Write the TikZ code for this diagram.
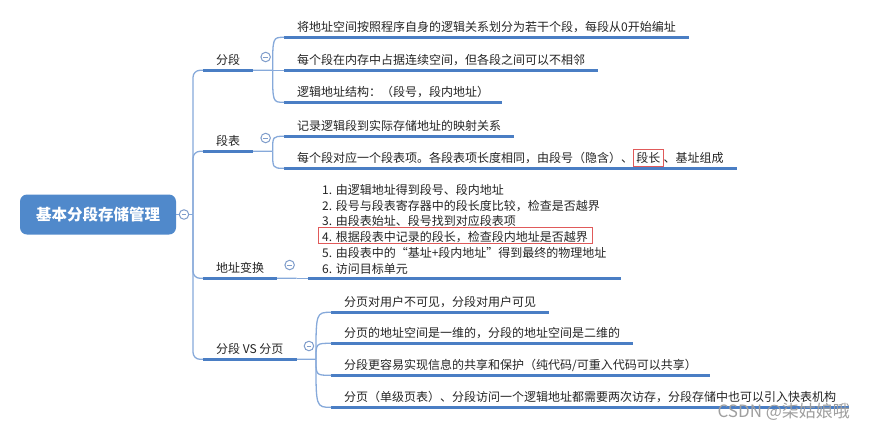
\documentclass[tikz,border=0pt]{standalone}
\usepackage{fontspec}
\setmainfont{Noto Sans CJK SC}
\usepackage{tikz}
\usetikzlibrary{positioning,fit}

\definecolor{mapblue}{HTML}{4A7EC4}
\definecolor{twigblue}{HTML}{86A9DA}
\definecolor{rootblue}{HTML}{5089CB}
\definecolor{toggleblue}{HTML}{7F9DCB}
\definecolor{boxred}{HTML}{E05A5A}
\definecolor{inkgray}{HTML}{242424}

\newcommand\mapfont{\fontsize{12pt}{14pt}\selectfont}
\setlength{\fboxsep}{2.5pt}
\setlength{\fboxrule}{0.7pt}

\tikzset{
  root/.style={rectangle, rounded corners=7pt, fill=rootblue, text=white,
    font=\fontsize{15.5pt}{18pt}\selectfont\bfseries,
    minimum width=156pt, minimum height=40pt},
  toggle/.style={circle, draw=toggleblue, line width=1pt, fill=white,
    minimum size=9.5pt, inner sep=0pt,
    path picture={\draw[toggleblue, line width=0.9pt]
      ([xshift=-2.2pt]path picture bounding box.center) --
      ([xshift=2.2pt]path picture bounding box.center);}},
  branch/.style={anchor=west, inner xsep=13pt, inner ysep=4.4pt,
    text height=13.9pt, text depth=1.5pt, font=\mapfont, text=inkgray},
  leaf/.style={branch},
  listline/.style={anchor=west, inner sep=0pt, text height=13.9pt,
    text depth=1.5pt, font=\mapfont, text=inkgray},
  bar/.style={draw=mapblue, line width=2.8pt},
  twig/.style={draw=twigblue, line width=1.3pt},
  redframe/.style={draw=boxred, line width=0.7pt, inner xsep=4pt, inner ysep=0pt},
  watermark/.style={anchor=west, text=gray!75, font=\fontsize{17pt}{19pt}\selectfont}
}

\begin{document}
\begin{tikzpicture}[x=1pt, y=-1pt]
    \useasboundingbox (0,0) rectangle (870,429);

    % ROOT
    \node[root] (root) at (98,214.5) {基本分段存储管理};
    \node[toggle] (t0) at (184,214.5) {};
    \coordinate (hub) at (193,214.5);
    \draw[twig] (root.east) -- (t0.west);
    \draw[twig] (t0.east) -- (hub);

    % BRANCHES
    \node[branch] (b1) at (203,58) {分段};
    \node[branch] (b2) at (203,139) {段表};
    \node[branch] (b3) at (203,266) {地址变换};
    \node[branch] (b4) at (203,347) {分段 VS 分页};

    \foreach \i in {1,...,4} {
        \node[toggle, right=7pt of b\i, yshift=1pt] (t\i) {};
        \coordinate (j\i) at ([xshift=7pt]t\i.center |- b\i.south);
        \draw[twig, rounded corners=7pt] (j\i) -| (hub);
        \draw[bar] (b\i.south west) -- (b\i.south east);
    }

    % FULLES DE "分段"
    \foreach \n/\y/\t in {1/25/{将地址空间按照程序自身的逻辑关系划分为若干个段，每段从0开始编址},
                          2/58/{每个段在内存中占据连续空间，但各段之间可以不相邻},
                          3/90/{逻辑地址结构：（段号，段内地址）}} {
        \node[leaf] (a\n) at (284,\y) {\t};
        \draw[bar] (a\n.south west) -- (a\n.south east);
        \draw[twig] (j1) .. controls (j1 |- a\n.south west) .. (a\n.south west);
    }

    % FULLES DE "段表"
    \node[leaf] (d1) at (284,124) {记录逻辑段到实际存储地址的映射关系};
    \node[leaf] (d2) at (284,156) {每个段对应一个段表项。各段表项长度相同，由段号（隐含）、\fcolorbox{boxred}{white}{段长}、基址组成};
    \foreach \n in {1,2} {
        \draw[bar] (d\n.south west) -- (d\n.south east);
        \draw[twig] (j2) .. controls (j2 |- d\n.south west) .. (d\n.south west);
    }

    % PASSOS DE "地址变换"
    \foreach \n/\t in {1/{1. 由逻辑地址得到段号、段内地址},
                       2/{2. 段号与段表寄存器中的段长度比较，检查是否越界},
                       3/{3. 由段表始址、段号找到对应段表项},
                       4/{4. 根据段表中记录的段长，检查段内地址是否越界},
                       5/{5. 由段表中的“基址+段内地址”得到最终的物理地址},
                       6/{6. 访问目标单元}} {
        \node[listline] (s\n) at (322,{172.2+15.8*\n}) {\t};
    }
    \node[redframe, fit=(s4)] (hl) {};
    \node[fit=(s1)(s2)(s3)(s4)(s5)(s6), inner xsep=14pt, inner ysep=0pt] (steps) {};
    \draw[twig] (j3) -- (steps.west |- j3);
    \draw[bar] (steps.west |- j3) -- (steps.east |- j3);

    % FULLES DE "分段 VS 分页"
    \foreach \n/\y/\t in {1/300/{分页对用户不可见，分段对用户可见},
                          2/331/{分页的地址空间是一维的，分段的地址空间是二维的},
                          3/363/{分段更容易实现信息的共享和保护（纯代码/可重入代码可以共享）},
                          4/395/{分页（单级页表）、分段访问一个逻辑地址都需要两次访存，分段存储中也可以引入快表机构}} {
        \node[leaf] (v\n) at (331,\y) {\t};
        \draw[bar] (v\n.south west) -- (v\n.south east);
        \draw[twig] (j4) .. controls (j4 |- v\n.south west) .. (v\n.south west);
    }

    % MARCA D'AIGUA
    \node[watermark] (wm) at (714,412) {CSDN @柒姑娘哦};
\end{tikzpicture}
\end{document}
